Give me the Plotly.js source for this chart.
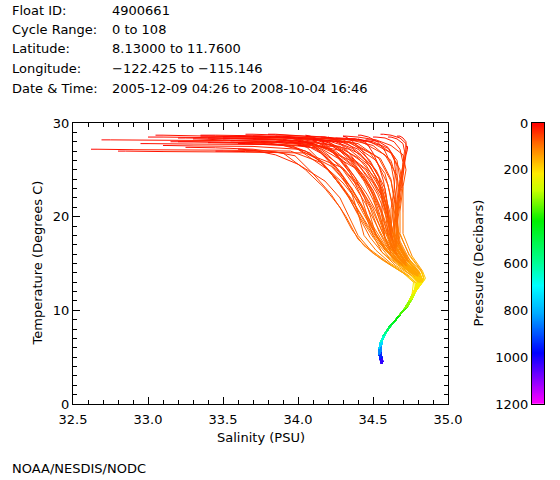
<!DOCTYPE html>
<html>
<head>
<meta charset="utf-8">
<script src="https://cdn.plot.ly/plotly-3.0.1.min.js"></script>
<style>html,body{margin:0;padding:0;background:#fff;}#chart{width:560px;height:480px;}</style>
</head>
<body>
<div id="chart"></div>
<script>
// ---------------- header text ----------------
const headerLabels = ["Float ID:", "Cycle Range:", "Latitude:", "Longitude:", "Date & Time:"];
const headerValues = ["4900661", "0 to 108", "8.13000 to 11.7600", "\u2212122.425 to \u2212115.146", "2005-12-09 04:26 to 2008-10-04 16:46"];

// ---------------- profile data ----------------
// upper levels, decibars
const upperPressure = [0, 10, 20, 30, 40, 50, 60, 70, 85, 100, 125, 160, 200];

const profileSalinity = [
  [32.62,32.66,32.90,33.50,33.95,34.15,34.30,34.42,34.50,34.58,34.66,34.76,34.80],
  [32.69,32.75,33.20,33.80,34.10,34.35,34.48,34.55,34.60,34.64,34.72,34.79,34.81],
  [32.80,32.85,33.10,33.60,34.05,34.30,34.42,34.50,34.56,34.62,34.70,34.77,34.80],
  [33.05,33.10,33.40,33.90,34.20,34.40,34.52,34.58,34.62,34.66,34.73,34.80,34.82],
  [32.95,33.00,33.30,33.80,34.25,34.45,34.56,34.60,34.62,34.65,34.72,34.80,34.83],
  [33.15,33.20,33.50,33.85,34.10,34.28,34.40,34.48,34.54,34.60,34.69,34.78,34.81],
  [33.20,33.25,33.55,34.00,34.35,34.55,34.62,34.64,34.64,34.66,34.74,34.81,34.82],
  [33.30,33.32,33.50,33.75,33.98,34.20,34.32,34.40,34.48,34.56,34.66,34.76,34.80],
  [33.35,33.40,33.70,34.05,34.30,34.48,34.58,34.62,34.66,34.68,34.74,34.81,34.83],
  [33.40,33.42,33.60,33.90,34.15,34.38,34.50,34.56,34.60,34.64,34.71,34.79,34.82],
  [33.45,33.50,33.65,33.85,33.98,34.10,34.22,34.32,34.40,34.50,34.62,34.74,34.79],
  [33.50,33.55,33.80,34.10,34.35,34.52,34.60,34.63,34.64,34.66,34.73,34.80,34.82],
  [33.55,33.58,33.75,34.00,34.22,34.40,34.50,34.55,34.58,34.62,34.70,34.78,34.81],
  [33.60,33.62,33.70,33.85,34.00,34.18,34.28,34.34,34.40,34.48,34.60,34.72,34.78],
  [33.65,33.70,33.90,34.15,34.40,34.58,34.66,34.68,34.66,34.66,34.72,34.80,34.83],
  [33.70,33.72,33.85,34.05,34.28,34.45,34.54,34.58,34.60,34.63,34.71,34.79,34.82],
  [33.75,33.78,33.90,34.10,34.30,34.46,34.55,34.60,34.63,34.66,34.73,34.81,34.83],
  [33.80,33.82,33.95,34.12,34.25,34.35,34.42,34.46,34.52,34.58,34.68,34.78,34.81],
  [33.85,33.88,34.00,34.20,34.40,34.54,34.62,34.65,34.66,34.68,34.74,34.81,34.83],
  [33.90,33.92,34.02,34.18,34.34,34.48,34.56,34.60,34.62,34.65,34.72,34.80,34.82],
  [33.95,33.98,34.10,34.25,34.36,34.45,34.52,34.57,34.61,34.64,34.71,34.80,34.83],
  [34.00,34.02,34.10,34.20,34.30,34.38,34.44,34.48,34.52,34.58,34.68,34.78,34.81],
  [34.05,34.08,34.18,34.35,34.50,34.62,34.66,34.66,34.64,34.65,34.72,34.80,34.82],
  [34.10,34.12,34.20,34.30,34.42,34.52,34.58,34.60,34.60,34.62,34.70,34.79,34.82],
  [34.15,34.18,34.25,34.33,34.41,34.48,34.54,34.58,34.62,34.65,34.72,34.81,34.83],
  [34.20,34.22,34.30,34.40,34.48,34.54,34.56,34.56,34.58,34.62,34.70,34.79,34.82],
  [34.25,34.28,34.38,34.50,34.60,34.66,34.68,34.67,34.66,34.67,34.73,34.81,34.83],
  [34.30,34.32,34.40,34.52,34.62,34.70,34.72,34.70,34.68,34.68,34.74,34.82,34.84],
  [34.35,34.38,34.45,34.55,34.62,34.66,34.66,34.64,34.62,34.64,34.72,34.80,34.82],
  [34.40,34.42,34.47,34.53,34.58,34.62,34.64,34.65,34.65,34.66,34.73,34.81,34.83],
  [34.45,34.48,34.54,34.60,34.64,34.65,34.64,34.62,34.62,34.65,34.72,34.80,34.82],
  [34.50,34.52,34.58,34.64,34.68,34.70,34.69,34.67,34.65,34.66,34.73,34.81,34.83],
  [34.55,34.57,34.62,34.68,34.72,34.72,34.70,34.68,34.66,34.67,34.74,34.82,34.84],
  [34.60,34.62,34.66,34.70,34.71,34.70,34.68,34.66,34.64,34.65,34.72,34.80,34.82],
  [34.66,34.68,34.70,34.72,34.72,34.71,34.70,34.68,34.66,34.66,34.73,34.81,34.83],
  [34.72,34.73,34.73,34.72,34.71,34.70,34.69,34.68,34.66,34.67,34.75,34.83,34.84],
  [33.10,33.12,33.30,33.70,34.00,34.22,34.36,34.44,34.50,34.56,34.65,34.76,34.80],
  [33.60,33.65,33.95,34.25,34.48,34.62,34.68,34.70,34.70,34.70,34.76,34.83,34.85],
  [33.25,33.28,33.45,33.70,33.90,34.05,34.18,34.28,34.36,34.44,34.56,34.70,34.77],
  [34.00,34.02,34.08,34.15,34.22,34.30,34.36,34.40,34.44,34.52,34.62,34.74,34.79],
  [33.40,33.45,33.80,34.05,34.15,34.25,34.33,34.40,34.47,34.54,34.63,34.75,34.80],
  [33.70,33.75,33.95,34.10,34.20,34.30,34.38,34.45,34.52,34.58,34.66,34.77,34.81],
  [33.20,33.30,33.70,33.95,34.08,34.18,34.26,34.34,34.42,34.50,34.60,34.73,34.79],
  [33.90,33.95,34.08,34.18,34.26,34.34,34.42,34.48,34.55,34.60,34.68,34.78,34.82],
  [34.05,34.08,34.15,34.22,34.30,34.38,34.46,34.52,34.58,34.62,34.70,34.79,34.82],
  [33.50,33.55,33.85,34.10,34.25,34.36,34.44,34.50,34.56,34.61,34.69,34.79,34.82],
  [34.20,34.22,34.27,34.33,34.40,34.47,34.53,34.57,34.61,34.64,34.71,34.80,34.83],
  [33.80,33.85,34.05,34.20,34.30,34.38,34.45,34.50,34.54,34.58,34.67,34.77,34.81],
  [34.10,34.13,34.20,34.28,34.36,34.44,34.50,34.55,34.60,34.64,34.71,34.80,34.83],
  [33.00,33.10,33.60,33.92,34.06,34.16,34.26,34.36,34.46,34.55,34.64,34.76,34.80],
  [34.30,34.32,34.36,34.42,34.48,34.54,34.58,34.61,34.63,34.65,34.72,34.81,34.83],
  [33.60,33.65,33.90,34.05,34.14,34.22,34.30,34.38,34.46,34.54,34.64,34.76,34.81],
  [34.00,34.03,34.12,34.22,34.32,34.42,34.50,34.56,34.60,34.63,34.70,34.79,34.82],
  [33.85,33.90,34.02,34.12,34.20,34.28,34.35,34.42,34.50,34.57,34.66,34.77,34.81],
  [34.40,34.42,34.46,34.50,34.54,34.57,34.59,34.60,34.61,34.63,34.71,34.80,34.83],
  [33.35,33.45,33.85,34.02,34.12,34.20,34.28,34.36,34.44,34.52,34.62,34.75,34.80]
];

const profileTemperature = [
  [27.2,27.2,27.15,27.1,27.0,25.8,23.6,21.2,18.6,16.8,15.1,13.9,13.1],
  [28.2,28.2,28.15,28.1,27.8,26.0,23.2,20.6,18.0,16.3,14.9,13.7,13.0],
  [27.0,27.0,26.95,26.9,26.8,25.2,23.0,20.9,18.4,16.5,15.0,13.8,13.0],
  [28.7,28.7,28.6,28.5,28.0,26.3,24.0,21.5,18.8,16.9,15.2,13.9,13.2],
  [27.8,27.8,27.75,27.7,27.5,25.0,22.2,19.8,17.6,16.0,14.7,13.6,13.0],
  [28.0,28.0,27.95,27.9,27.6,25.5,23.2,21.0,18.4,16.6,15.0,13.8,13.1],
  [28.4,28.4,28.35,28.3,28.0,26.2,24.0,21.8,19.0,17.0,15.2,13.9,13.2],
  [28.3,28.3,28.2,28.0,27.4,25.0,22.6,20.2,17.8,16.2,14.9,13.7,13.0],
  [28.6,28.6,28.5,28.4,28.2,26.8,24.6,22.0,19.4,17.4,15.5,14.0,13.2],
  [27.9,27.9,27.85,27.7,27.3,25.2,22.8,20.4,18.0,16.4,14.9,13.8,13.1],
  [27.0,27.0,26.95,26.9,26.5,24.6,22.4,20.0,17.6,16.1,14.8,13.6,12.9],
  [28.5,28.5,28.45,28.3,27.9,26.0,23.4,21.0,18.4,16.6,15.0,13.8,13.1],
  [28.1,28.1,28.05,27.9,27.2,25.0,22.4,20.0,17.6,16.0,14.7,13.6,13.0],
  [27.2,27.2,27.1,26.6,25.6,23.8,22.0,20.0,18.0,16.5,15.1,13.8,12.9],
  [28.8,28.8,28.7,28.5,28.2,26.6,24.4,22.2,19.6,17.4,15.4,14.0,13.2],
  [28.3,28.3,28.2,28.0,27.5,25.6,23.2,20.8,18.2,16.4,14.9,13.7,13.0],
  [28.0,28.0,27.9,27.7,27.0,25.0,22.5,20.0,17.5,15.9,14.7,13.6,13.0],
  [28.5,28.5,28.4,28.0,26.8,24.6,22.2,20.2,18.0,16.4,15.0,13.8,13.0],
  [28.6,28.6,28.5,28.3,27.8,26.2,23.8,21.4,18.8,16.9,15.2,13.9,13.2],
  [28.2,28.2,28.1,27.8,27.2,25.4,23.0,20.6,18.0,16.3,14.8,13.7,13.0],
  [28.4,28.4,28.3,28.0,27.3,26.0,24.3,22.4,20.0,17.9,15.7,14.1,13.2],
  [28.0,28.0,27.8,27.2,26.0,24.2,22.2,20.2,18.0,16.5,15.0,13.8,13.0],
  [28.6,28.6,28.5,28.2,27.6,26.0,23.8,21.4,18.6,16.8,15.1,13.8,13.1],
  [28.3,28.3,28.1,27.6,26.6,25.0,23.0,21.0,18.4,16.6,15.0,13.8,13.1],
  [28.5,28.5,28.3,27.8,26.8,25.4,23.6,21.6,19.2,17.3,15.4,14.0,13.2],
  [28.1,28.1,27.9,27.2,26.0,24.2,22.0,20.0,17.8,16.2,14.8,13.7,13.0],
  [28.4,28.4,28.3,28.0,27.3,26.0,24.0,22.0,19.6,17.4,15.4,14.0,13.2],
  [28.6,28.6,28.5,28.2,27.6,26.6,25.0,23.2,20.6,18.2,15.9,14.2,13.3],
  [28.3,28.3,28.1,27.6,26.8,25.4,23.4,21.4,18.8,16.9,15.1,13.8,13.1],
  [28.7,28.7,28.5,28.0,27.0,25.6,23.8,21.8,19.4,17.4,15.4,14.0,13.2],
  [28.2,28.2,28.0,27.4,26.4,24.8,22.8,20.8,18.4,16.6,15.0,13.8,13.1],
  [28.5,28.5,28.4,28.0,27.2,25.8,24.0,22.0,19.4,17.2,15.3,14.0,13.2],
  [28.8,28.8,28.7,28.4,27.8,26.8,25.2,23.4,20.8,18.4,16.0,14.3,13.4],
  [28.5,28.5,28.3,27.8,27.0,25.6,23.8,21.8,19.2,17.0,15.2,13.9,13.1],
  [28.6,28.6,28.4,28.0,27.2,26.2,24.6,22.6,20.0,17.8,15.6,14.1,13.3],
  [27.5,27.5,27.2,26.6,25.6,24.4,23.0,21.4,19.0,17.0,15.3,14.0,13.2],
  [27.6,27.6,27.55,27.5,27.2,25.4,23.0,20.6,18.0,16.2,14.8,13.7,13.0],
  [28.6,28.6,28.5,28.3,28.0,26.8,25.0,23.0,20.4,18.2,15.8,14.2,13.4],
  [27.4,27.4,27.35,27.2,26.8,25.0,23.0,21.0,18.6,16.9,15.4,14.0,13.0],
  [27.6,27.6,27.4,26.8,25.8,24.2,22.4,20.4,18.0,16.4,15.0,13.7,12.9],
  [28.4,28.4,28.3,28.0,27.0,25.4,23.6,21.8,19.6,17.6,15.6,14.0,13.1],
  [28.6,28.6,28.4,27.8,26.6,25.0,23.2,21.4,19.2,17.4,15.5,14.0,13.1],
  [28.0,28.0,27.9,27.6,26.8,25.4,23.8,22.0,19.8,17.8,15.8,14.1,13.1],
  [28.5,28.5,28.3,27.6,26.4,24.8,23.0,21.2,18.8,17.0,15.3,13.9,13.1],
  [28.7,28.6,28.2,27.2,25.8,24.2,22.4,20.6,18.4,16.8,15.1,13.8,13.0],
  [28.3,28.3,28.2,27.8,27.0,25.6,23.8,21.8,19.4,17.4,15.4,13.9,13.1],
  [28.5,28.4,28.0,27.0,25.6,24.0,22.4,20.8,18.8,17.0,15.2,13.9,13.1],
  [28.8,28.8,28.6,28.0,27.0,25.6,24.0,22.2,19.8,17.8,15.6,14.0,13.1],
  [28.2,28.2,27.9,27.0,25.8,24.4,22.8,21.0,18.6,16.8,15.1,13.8,13.0],
  [28.5,28.5,28.4,28.2,27.4,25.8,24.0,21.8,19.2,17.2,15.4,13.9,13.0],
  [28.6,28.5,28.1,27.2,25.8,24.2,22.4,20.6,18.4,16.8,15.1,13.8,13.1],
  [27.8,27.8,27.6,27.0,26.0,24.6,23.0,21.2,19.0,17.2,15.4,13.9,13.0],
  [28.4,28.4,28.2,27.6,26.6,25.2,23.6,21.8,19.4,17.4,15.4,13.9,13.1],
  [28.0,28.0,27.8,27.2,26.2,24.8,23.2,21.4,19.0,17.2,15.4,13.9,13.0],
  [28.3,28.2,27.8,26.8,25.4,23.8,22.0,20.2,18.0,16.5,15.0,13.8,13.0],
  [28.7,28.7,28.6,28.2,27.4,26.0,24.4,22.6,20.2,18.0,15.9,14.1,13.1]
];

// deep part (shared by all profiles, three slightly different tracks)
const deepPressure = [250, 300, 350, 400, 450, 500, 550, 600, 700, 800, 900, 1000, 1050];
const deepSalinityA = [34.77,34.75,34.72,34.68,34.65,34.62,34.60,34.58,34.556,34.548,34.547,34.552,34.562];
const deepTemperatureA = [11.8,11.1,10.3,9.5,8.9,8.4,7.9,7.5,6.7,6.1,5.4,4.9,4.35];
const deepSalinityB = [34.78,34.76,34.73,34.69,34.66,34.63,34.61,34.59,34.565,34.556,34.554,34.558,34.566];
const deepTemperatureB = [11.9,11.2,10.4,9.7,9.1,8.6,8.1,7.7,6.9,6.25,5.55,5.0,4.5];
const deepSalinityC = [34.76,34.74,34.71,34.67,34.64,34.61,34.59,34.57,34.549,34.541,34.541,34.547,34.556];
const deepTemperatureC = [11.7,11.0,10.2,9.4,8.8,8.3,7.8,7.35,6.55,5.95,5.3,4.8,4.3];

const pressureTicks = [0, 200, 400, 600, 800, 1000, 1200];

// ---------------- style ----------------
const FONT = "DejaVu Sans";
const colorStops = [
  [0.00, [255, 0, 0]],
  [0.08, [255, 115, 0]],
  [0.18, [255, 235, 0]],
  [0.24, [200, 255, 0]],
  [0.35, [0, 240, 0]],
  [0.50, [0, 255, 150]],
  [0.58, [0, 255, 255]],
  [0.68, [0, 170, 255]],
  [0.82, [0, 0, 255]],
  [1.00, [255, 0, 255]]
];
function colorAt(p) {
  const f = Math.min(1, Math.max(0, p / 1200));
  for (let i = 0; i < colorStops.length - 1; i++) {
    const a = colorStops[i], b = colorStops[i + 1];
    if (f >= a[0] && f <= b[0]) {
      const t = (f - a[0]) / (b[0] - a[0]);
      const c = a[1].map((v, k) => Math.round(v + (b[1][k] - v) * t));
      return "rgb(" + c.join(",") + ")";
    }
  }
  return "rgb(255,0,255)";
}

// ---------------- build segment traces grouped by colour ----------------
const deepS = [deepSalinityA, deepSalinityB, deepSalinityC];
const deepT = [deepTemperatureA, deepTemperatureB, deepTemperatureC];
const bins = {};
profileSalinity.forEach((sal, i) => {
  const S = sal.concat(deepS[i % 3]);
  const T = profileTemperature[i].concat(deepT[i % 3]);
  const P = upperPressure.concat(deepPressure);
  for (let j = 0; j < S.length - 1; j++) {
    const key = Math.round(((P[j] + P[j + 1]) / 2) / 5) * 5;
    if (!bins[key]) bins[key] = { x: [], y: [] };
    bins[key].x.push(S[j], S[j + 1], null);
    bins[key].y.push(T[j], T[j + 1], null);
  }
});
const traces = [];
Object.keys(bins).map(Number).sort((a, b) => b - a).forEach(k => {
  traces.push({
    type: "scatter", mode: "lines", x: bins[k].x, y: bins[k].y,
    xaxis: "x", yaxis: "y",
    line: { color: colorAt(k), width: 1, simplify: false },
    hoverinfo: "skip", showlegend: false
  });
});

// colour bar as heatmap
const barY = [], barZ = [];
for (let p = 0; p <= 1200; p += 2) { barY.push(p); barZ.push([p]); }
traces.push({
  type: "heatmap", x: [0], y: barY, z: barZ, xaxis: "x2", yaxis: "y2",
  zmin: 0, zmax: 1200, showscale: false, hoverinfo: "skip",
  colorscale: colorStops.map(s => [s[0], "rgb(" + s[1].join(",") + ")"])
});

// ---------------- layout ----------------
const W = 560, H = 480;
const px = x => x / W, py = y => 1 - y / H;
const tickFont = { family: FONT, size: 13, color: "#000" };
const annotations = [];
headerLabels.forEach((t, i) => {
  const yc = [10, 29.5, 49, 68.5, 88][i];
  annotations.push({ text: t, xref: "paper", yref: "paper", x: px(10), y: py(yc), xanchor: "left", yanchor: "middle", showarrow: false, font: tickFont });
  annotations.push({ text: headerValues[i], xref: "paper", yref: "paper", x: px(110), y: py(yc), xanchor: "left", yanchor: "middle", showarrow: false, font: tickFont });
});
annotations.push({ text: "Salinity (PSU)", xref: "paper", yref: "paper", x: px(260.5), y: py(437), xanchor: "center", yanchor: "middle", showarrow: false, font: tickFont });
annotations.push({ text: "Temperature (Degrees C)", xref: "paper", yref: "paper", x: px(37), y: py(263.5), xanchor: "center", yanchor: "middle", textangle: -90, showarrow: false, font: tickFont });
annotations.push({ text: "Pressure (Decibars)", xref: "paper", yref: "paper", x: px(478), y: py(263.5), xanchor: "center", yanchor: "middle", textangle: -90, showarrow: false, font: tickFont });
annotations.push({ text: "NOAA/NESDIS/NODC", xref: "paper", yref: "paper", x: px(10), y: py(468), xanchor: "left", yanchor: "middle", showarrow: false, font: tickFont });

const layout = {
  width: W, height: H,
  margin: { l: 0, r: 0, t: 0, b: 0, pad: 0 },
  paper_bgcolor: "#fff", plot_bgcolor: "#fff",
  showlegend: false,
  font: { family: FONT, size: 13, color: "#000" },
  xaxis: {
    domain: [px(73), px(448)], anchor: "y", range: [32.5, 35.0],
    dtick: 0.5, tick0: 32.5, tickformat: ".1f", ticklabelstandoff: 3,
    ticks: "inside", ticklen: 7, tickwidth: 1, tickcolor: "#000",
    minor: { dtick: 0.1, ticks: "inside", ticklen: 4, tickwidth: 1, tickcolor: "#000", showgrid: false },
    showline: true, linecolor: "#000", linewidth: 1, mirror: "allticks",
    showgrid: false, zeroline: false, tickfont: tickFont, fixedrange: true
  },
  yaxis: {
    domain: [py(404), py(123)], anchor: "x", range: [0, 30],
    dtick: 10, tick0: 0,
    ticks: "inside", ticklen: 7, tickwidth: 1, tickcolor: "#000",
    minor: { dtick: 1, ticks: "inside", ticklen: 4, tickwidth: 1, tickcolor: "#000", showgrid: false },
    showline: true, linecolor: "#000", linewidth: 1, mirror: "allticks",
    showgrid: false, zeroline: false, tickfont: tickFont, fixedrange: true
  },
  xaxis2: {
    domain: [px(532), px(544)], anchor: "y2", range: [-0.5, 0.5],
    showticklabels: false, ticks: "", showgrid: false, zeroline: false,
    showline: true, linecolor: "#000", linewidth: 1, mirror: true, fixedrange: true
  },
  yaxis2: {
    domain: [py(404), py(123)], anchor: "x2", range: [1200, 0],
    tickvals: pressureTicks, ticktext: pressureTicks.map(String), ticks: "",
    side: "left", showgrid: false, zeroline: false,
    showline: true, linecolor: "#000", linewidth: 1, mirror: true,
    tickfont: tickFont, fixedrange: true
  },
  annotations: annotations
};

Plotly.newPlot("chart", traces, layout, { staticPlot: true, displayModeBar: false });
</script>
</body>
</html>
